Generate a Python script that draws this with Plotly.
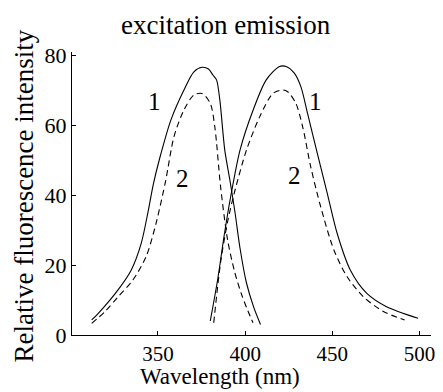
import plotly.graph_objects as go

# Excitation spectra (curve 1 solid, curve 2 dashed)
exc1_x = [312.0, 315.8, 327.1, 334.7, 340.4, 344.2, 347.3, 351.0, 357.4, 364.9, 370.6, 375.3, 379.0, 381.5, 383.6, 385.5, 388.3, 391.5, 394.2, 397.0, 400.7, 404.8, 408.8]
exc1_y = [4.3, 6.2, 12.9, 18.6, 26.2, 34.9, 43.0, 50.5, 61.4, 70.0, 75.2, 76.5, 76.0, 74.3, 72.9, 67.1, 52.9, 43.5, 35.0, 25.0, 15.0, 8.1, 3.0]
exc2_x = [312.0, 319.6, 327.1, 335.6, 343.2, 348.9, 354.5, 359.2, 364.9, 370.6, 375.3, 380.0, 382.6, 386.0, 390.0, 394.0, 398.0, 401.5, 404.5]
exc2_y = [3.3, 6.7, 10.9, 15.7, 22.4, 31.9, 44.3, 56.7, 64.3, 68.6, 69.0, 66.2, 59.5, 42.0, 27.0, 18.0, 11.5, 7.0, 3.5]

# Emission spectra
em1_x = [380.0, 384.3, 388.0, 391.7, 397.1, 404.6, 412.1, 419.7, 423.5, 428.2, 432.0, 435.8, 441.4, 447.1, 452.8, 460.3, 469.8, 481.1, 499.1]
em1_y = [4.0, 16.0, 28.5, 39.5, 52.9, 64.3, 72.9, 76.7, 76.7, 74.8, 70.9, 63.3, 51.9, 40.5, 29.0, 18.6, 11.9, 8.1, 4.8]
em2_x = [382.0, 386.0, 390.0, 394.0, 400.8, 408.4, 415.9, 421.6, 424.4, 429.1, 433.0, 437.6, 443.3, 450.9, 458.4, 467.9, 479.3, 491.5]
em2_y = [3.5, 21.0, 32.5, 41.0, 52.9, 62.4, 69.0, 70.0, 69.5, 66.2, 59.5, 48.1, 36.7, 24.3, 16.7, 10.9, 6.7, 4.3]

x_ticks = [350, 400, 450, 500]
y_ticks = [0, 20, 40, 60, 80]

curve_labels = ["1", "2", "1", "2"]
curve_label_x = [347.9, 363.9, 440.5, 428.2]
curve_label_y = [66.7, 44.8, 66.7, 45.7]

FONT = "Liberation Serif, DejaVu Serif, Times New Roman, serif"

fig = go.Figure()
for xs, ys, dash in [(exc1_x, exc1_y, "solid"), (exc2_x, exc2_y, "6px,4px"),
                     (em1_x, em1_y, "solid"), (em2_x, em2_y, "6px,4px")]:
    fig.add_trace(go.Scatter(x=xs, y=ys, mode="lines",
                             line=dict(color="black", width=1.1, dash=dash,
                                       shape="spline", smoothing=0.8),
                             showlegend=False, hoverinfo="skip"))

for t, x, y in zip(curve_labels, curve_label_x, curve_label_y):
    fig.add_annotation(x=x, y=y, text=t, showarrow=False,
                       font=dict(family=FONT, size=25, color="black"),
                       xanchor="center", yanchor="middle")

# page has an 8px body margin: figure coordinates = page coordinates - 8
OFF = 8
W, H = 443 - OFF, 392 - OFF
L, R, T, B = 72 - OFF, 8, 52 - OFF, 57
PW, PH = W - L - R, H - T - B


def px(xp):  # page x -> paper fraction
    return (xp - OFF - L) / PW


def py(yp):  # page y -> paper fraction
    return (H - B - (yp - OFF)) / PH


fig.add_annotation(text="excitation emission", xref="paper", yref="paper",
                   x=px(228), y=py(25), showarrow=False,
                   font=dict(family=FONT, size=27, color="black"),
                   xanchor="center", yanchor="middle")
fig.add_annotation(text="Wavelength (nm)", xref="paper", yref="paper",
                   x=px(222), y=py(391), showarrow=False,
                   font=dict(family=FONT, size=23, color="black"),
                   xanchor="center", yanchor="bottom")
fig.add_annotation(text="Relative fluorescence intensity", xref="paper", yref="paper",
                   x=px(23), y=py(196), showarrow=False, textangle=-90,
                   font=dict(family=FONT, size=27, color="black"),
                   xanchor="center", yanchor="middle")

fig.update_layout(
    width=W, height=H,
    margin=dict(l=L, r=R, t=T, b=B, pad=0),
    plot_bgcolor="white", paper_bgcolor="white",
    font=dict(family=FONT, color="black"),
)
fig.update_xaxes(range=[300.7, 506.6], tickvals=x_ticks, ticktext=[str(v) for v in x_ticks],
                 ticks="inside", ticklen=4, tickcolor="black", showgrid=False, zeroline=False,
                 showline=True, linecolor="black", linewidth=1,
                 tickfont=dict(family=FONT, size=21, color="black"))
fig.update_yaxes(range=[0, 80.86], tickvals=y_ticks, ticktext=[str(v) for v in y_ticks],
                 ticks="inside", ticklen=4, tickcolor="black", showgrid=False, zeroline=False,
                 showline=True, linecolor="black", linewidth=1,
                 tickfont=dict(family=FONT, size=22, color="black"))

fig.write_html("out.html")
